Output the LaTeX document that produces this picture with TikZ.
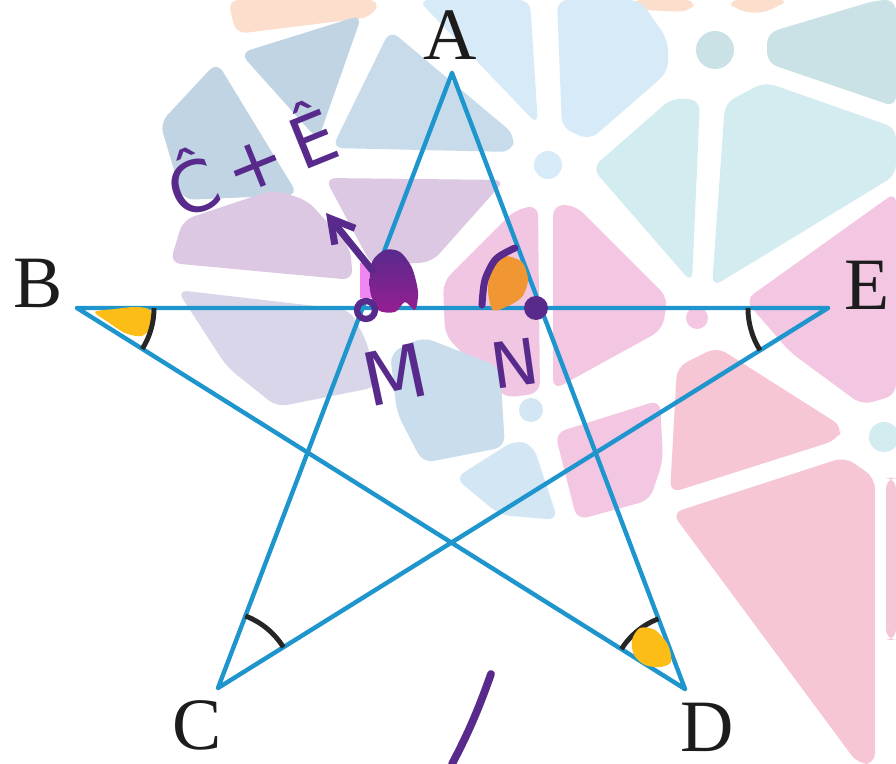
\documentclass[tikz,border=0pt]{standalone}
\usepackage{fontspec}
\usetikzlibrary{angles,calc,arrows.meta}
\newfontfamily\labelfont{Liberation Serif}
\newfontfamily\handfont{DejaVu Sans}
\definecolor{starblue}{RGB}{30,150,205}
\definecolor{pen}{RGB}{88,42,140}
\definecolor{penmag}{RGB}{150,30,145}
\definecolor{hilite}{RGB}{240,135,240}
\definecolor{marker}{RGB}{252,190,22}
\definecolor{orangemk}{RGB}{240,150,50}
\definecolor{inkgray}{RGB}{28,28,28}
\definecolor{tblue}{RGB}{192,212,228}
\definecolor{tsky}{RGB}{214,234,247}
\definecolor{tteal}{RGB}{210,236,240}
\definecolor{tmauve}{RGB}{220,200,226}
\definecolor{tlav}{RGB}{216,214,232}
\definecolor{tpink}{RGB}{243,198,226}
\definecolor{trose}{RGB}{246,198,212}
\definecolor{tpeach}{RGB}{252,222,204}
\tikzset{
  tile/.style={fill=#1, rounded corners=3pt},
  hub/.style={fill=#1},
  edge/.style={starblue, line width=1.25pt, line cap=round, line join=round},
  vlabel/.style={inkgray, inner sep=0pt, font=\labelfont\fontsize{21}{21}\selectfont},
  anglemark/.style={draw=black!85, line width=1.4pt},
  ink/.style={pen, line width=2pt, line cap=round, line join=round},
  hand/.style={pen, inner sep=0pt, font=\handfont\fontsize{#1}{#1}\selectfont},
}
\begin{document}
\begin{tikzpicture}[x=0.01cm, y=-0.01cm]

  \useasboundingbox (0,0) rectangle (896,764);
  \fill[white] (0,0) rectangle (896,764);

  % mosaic in the back
  \fill[tile=tpeach] (228,0) -- (380,0) -- (372,17) -- (236,34) -- cycle;
  \fill[tile=tpeach] (630,0) -- (697,0) -- (690,12) -- (640,10) -- cycle;
  \fill[tile=tpeach] (727,0) -- (790,0) -- (762,14) -- (735,10) -- cycle;
  \fill[tile=tblue]  (160,123) -- (217,62) -- (298,195) -- (183,200) -- cycle;
  \fill[tile=tblue]  (240,53) -- (362,15) -- (318,140) -- cycle;
  \fill[tile=tblue!70!tsky] (332,148) -- (390,30) -- (515,135) -- (512,152) -- cycle;
  \fill[tile=tsky]   (418,0) -- (530,0) -- (538,125) -- cycle;
  \fill[tile=tsky]   (557,0) -- (640,0) -- (668,40) -- (668,72) -- (590,140) -- (562,128) -- cycle;
  \fill[tile=tteal]  (592,168) -- (672,98) -- (700,100) -- (692,283) -- cycle;
  \fill[tile=tteal]  (725,103) -- (765,82) -- (896,128) -- (896,175) -- (712,287) -- cycle;
  \fill[tile=tteal!90!gray] (767,33) -- (877,0) -- (896,0) -- (896,107) -- (767,63) -- cycle;
  \fill[tile=tpink]  (745,300) -- (896,192) -- (896,395) -- (862,405) -- (790,352) -- cycle;
  \fill[tile=tpink]  (553,205) -- (575,205) -- (668,298) -- (662,330) -- (553,390) -- cycle;
  \fill[tile=tpink!90!tmauve] (443,282) -- (515,210) -- (538,205) -- (540,393) -- (505,398) -- (445,335) -- cycle;
  \fill[tile=tmauve] (325,178) -- (505,180) -- (432,262) -- (372,266) -- cycle;
  \fill[tile=tmauve] (170,263) -- (183,220) -- (273,190) -- (307,200) -- (350,247) -- (353,280) -- (277,273) -- cycle;
  \fill[tile=tlav]   (177,290) -- (350,310) -- (367,342) -- (377,387) -- (277,407) -- (227,367) -- cycle;
  \fill[tile=tblue!60!tsky] (390,353) -- (423,337) -- (500,367) -- (505,447) -- (423,463) -- (397,413) -- cycle;
  \fill[tile=tsky!80!tblue] (455,478) -- (515,440) -- (533,445) -- (558,520) -- (500,515) -- cycle;
  \fill[tile=tpink]  (555,433) -- (660,400) -- (663,460) -- (650,500) -- (577,520) -- cycle;
  \fill[tile=trose]  (677,367) -- (717,347) -- (843,427) -- (837,440) -- (670,493) -- cycle;
  \fill[tile=trose]  (672,513) -- (845,457) -- (875,478) -- (875,764) -- (858,764) -- cycle;
  \fill[tile=trose]  (886,478) -- (896,478) -- (896,640) -- (886,640) -- cycle;
  \fill[hub=tteal!90!gray] (715,50) circle[radius=19];
  \fill[hub=tsky] (548,165) circle[radius=14];
  \fill[hub=tsky!80!tblue] (531,410) circle[radius=12];
  \fill[hub=tpink] (697,318) circle[radius=11];
  \fill[hub=tteal] (884,437) circle[radius=15];

  % the star
  \coordinate (A) at (452,73);
  \coordinate (B) at (77,308);
  \coordinate (E) at (828,308);
  \coordinate (C) at (218,688);
  \coordinate (D) at (685,689);
  \draw[edge] (A) -- (C) (A) -- (D) (B) -- (E) (B) -- (D) (E) -- (C);

  \node[vlabel] (lA) at (450,35)  {A};
  \node[vlabel] (lB) at (38,283)  {B};
  \node[vlabel] (lE) at (867,285) {E};
  \node[vlabel] (lC) at (197,725) {C};
  \node[vlabel] (lD) at (707,727) {D};

  % marked angles
  \fill[marker] plot[smooth cycle] coordinates {(95,312) (115,309) (135,307) (150,310) (152,325) (142,336) (125,333) (108,322)};
  \pic[anglemark, angle radius=0.77cm] {angle=D--B--E};
  \pic[anglemark, angle radius=0.80cm] {angle=B--E--C};
  \pic[anglemark, angle radius=0.77cm] {angle=E--C--A};
  \pic[anglemark, angle radius=0.75cm] {angle=A--D--B};
  \fill[marker] plot[smooth cycle] coordinates {(632,640) (640,628) (655,630) (668,645) (671,662) (660,667) (645,665) (634,655)};
  \pic[ink, angle radius=0.72cm] {angle=C--A--D};

  % scribbles at M and N
  \fill[hilite] (360,263) rectangle (372,298);
  \shade[top color=pen, bottom color=penmag] plot[smooth cycle] coordinates {(372,262) (385,250) (400,252) (412,268) (418,292) (415,310) (405,302) (395,312) (378,310) (370,290)};
  \draw[ink, line width=1.8pt] (366,310) circle[radius=9];
  \fill[orangemk] plot[smooth cycle] coordinates {(492,262) (505,256) (522,262) (528,280) (522,297) (508,306) (493,310) (488,290)};
  \draw[ink] plot[smooth] coordinates {(482,305) (485,280) (496,259) (515,248)};
  \fill[pen] (536,308) circle[radius=12];

  \coordinate (tail) at (372,270);
  \coordinate (tip) at (326,213);
  \draw[ink, -{Straight Barb[length=2.3mm, width=2.6mm]}] (tail) -- (tip);

  \node[hand=20, rotate=22] (sumhat) at (250,158) {Ĉ\,+\,Ê};
  \node[hand=21, rotate=12] (mlab) at (395,375) {M};
  \node[hand=18, rotate=8]  (nlab) at (515,363) {N};

  \draw[ink, line width=2.2pt] (491,674) .. controls (480,705) and (470,730) .. (452,764);

\end{tikzpicture}
\end{document}
